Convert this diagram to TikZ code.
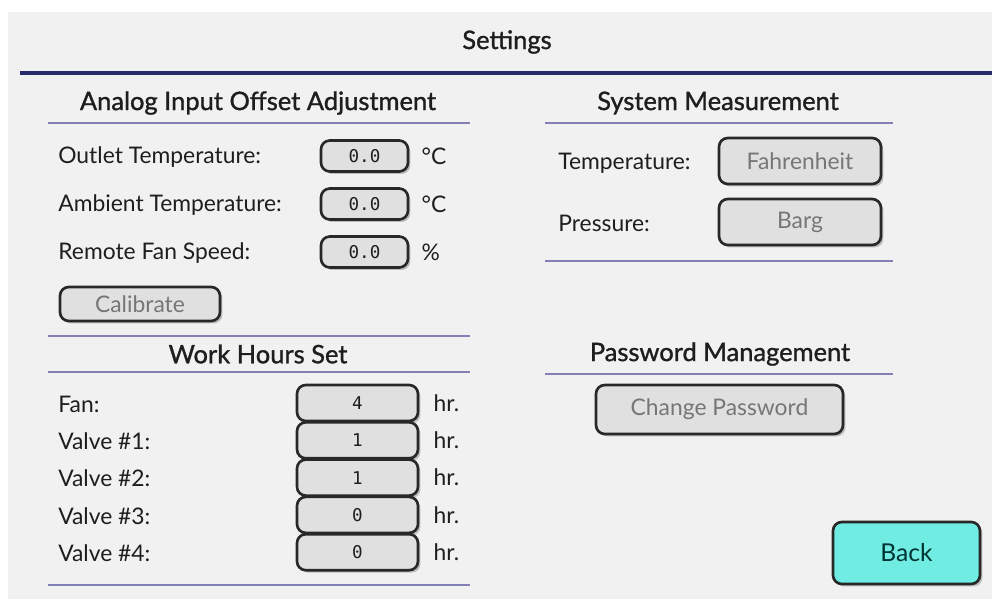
\documentclass[tikz,border=0pt]{standalone}
\usepackage{fontspec}
\setmainfont{Lato}
\newfontfamily\headfont{Lato}[FakeBold=1.2]
\newfontfamily\valfont{DejaVu Sans Mono}
\usetikzlibrary{positioning,shadows}

\definecolor{panelbg}{RGB}{241,241,241}
\definecolor{navyrule}{RGB}{40,42,108}
\definecolor{lavrule}{RGB}{130,128,180}
\definecolor{btnfill}{RGB}{224,224,224}
\definecolor{btnedge}{RGB}{40,40,40}
\definecolor{backfill}{RGB}{112,236,226}
\definecolor{greytext}{RGB}{118,118,118}
\definecolor{inktext}{RGB}{30,30,30}

\tikzset{
  paneltitle/.style={font=\headfont\fontsize{14.5}{17}\selectfont, text=inktext},
  fieldlabel/.style={font=\fontsize{13}{16}\selectfont, text=inktext, anchor=west, inner sep=0pt},
  unitlabel/.style={font=\fontsize{13}{16}\selectfont, text=inktext, anchor=west, inner sep=0pt},
  rule/.style={draw=lavrule, line width=1pt},
  uibutton/.style={draw=btnedge, line width=1.5pt, fill=btnfill, rounded corners=5pt,
    drop shadow={shadow xshift=1.4pt, shadow yshift=-1.4pt, opacity=.45},
    font=\fontsize{13}{16}\selectfont, text=greytext, inner sep=0pt},
  valuebox/.style={uibutton, font=\valfont\fontsize{10}{12}\selectfont, text=inktext}
}

\begin{document}
\begin{tikzpicture}[x=0.02cm, y=-0.02cm]
  % screen
  \fill[white] (0,0) rectangle (992,599);
  \fill[panelbg] (8,12) rectangle (992,599);
  \useasboundingbox (0,0) rectangle (992,599);

  \node[paneltitle] (settings) at (507,42) {Settings};
  \draw[navyrule, line width=2.2pt] (20,73) -- (992,73);

  % analog input offsets
  \node[paneltitle] (analogtitle) at (258,103) {Analog Input Offset Adjustment};
  \draw[rule] (48,123) -- (470,123);
  \foreach \name/\txt/\unit [count=\i from 0] in
      {outlet/Outlet Temperature:/°C, ambient/Ambient Temperature:/°C, fanspeed/Remote Fan Speed:/\%}
  {
    \node[fieldlabel] (\name label) at (58,157+48*\i) {\txt};
    \node[valuebox, minimum width=1.74cm, minimum height=0.62cm]
        (\name box) at (364.5,156+48*\i) {0.0};
    \node[unitlabel, right=0.24cm of \name box] (\name unit) {\unit};
  }
  \node[uibutton, minimum width=3.2cm, minimum height=0.68cm] (calibrate) at (140,304) {Calibrate};
  \draw[rule] (48,336) -- (470,336);

  % work hours
  \node[paneltitle] (hourstitle) at (258,354) {Work Hours Set};
  \draw[rule] (48,372) -- (470,372);
  \foreach \name/\txt/\val [count=\i from 0] in
      {fan/Fan:/4, valveA/Valve \#1:/1, valveB/Valve \#2:/1, valveC/Valve \#3:/0, valveD/Valve \#4:/0}
  {
    \node[fieldlabel] (\name label) at (58,404+37.3*\i) {\txt};
    \node[valuebox, minimum width=2.42cm, minimum height=0.72cm]
        (\name box) at (357.5,403+37.3*\i) {\val};
    \node[unitlabel, right=0.28cm of \name box] (\name unit) {hr.};
  }
  \draw[rule] (48,585) -- (470,585);

  % system measurement
  \node[paneltitle] (systemtitle) at (718,103) {System Measurement};
  \draw[rule] (545,123) -- (893,123);
  \node[fieldlabel] (templabel) at (558,163) {Temperature:};
  \node[uibutton, minimum width=3.24cm, minimum height=0.92cm] (tempbtn) at (800,161) {Fahrenheit};
  \node[fieldlabel] (presslabel) at (558,223) {Pressure:};
  \node[uibutton, minimum width=3.24cm, minimum height=0.92cm] (pressbtn) at (800,222) {Barg};
  \draw[rule] (545,261) -- (893,261);

  % password
  \node[paneltitle] (passtitle) at (720,354) {Password Management};
  \draw[rule] (545,374) -- (893,374);
  \node[uibutton, minimum width=4.94cm, minimum height=0.98cm] (changepass) at (719.5,409.5) {Change Password};

  \node[uibutton, fill=backfill, text=black!60!teal, minimum width=2.94cm, minimum height=1.24cm,
      font=\fontsize{14}{17}\selectfont] (back) at (906.5,553) {Back};
\end{tikzpicture}
\end{document}
